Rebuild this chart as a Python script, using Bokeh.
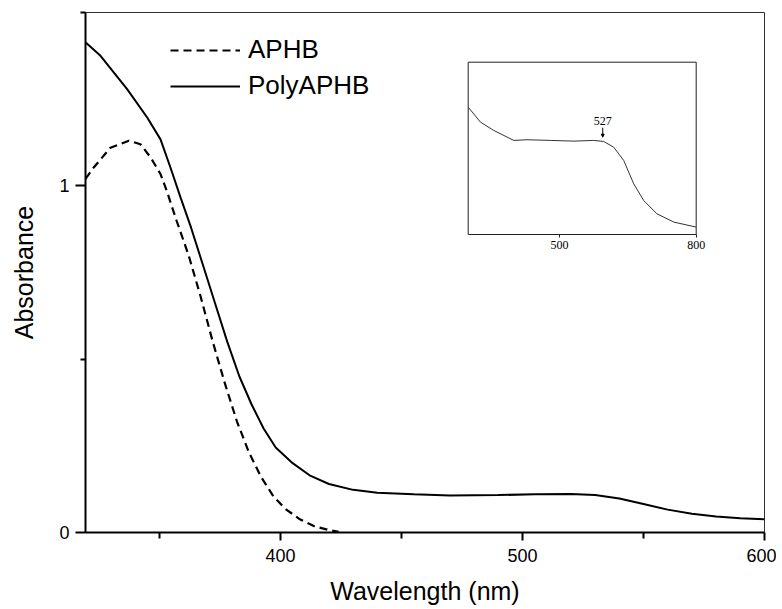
from bokeh.plotting import figure
from bokeh.models import (Range1d, LinearAxis, FixedTicker, Legend, LegendItem,
                          Arrow, NormalHead)
from bokeh.core.properties import value
from bokeh.embed import file_html
from bokeh.resources import INLINE

# ---------------- data ----------------
aphb_wl = [319.4, 322.8, 329.7, 337.3, 342.1, 346.3, 350.4, 353.2, 357, 362, 367,
           372, 377, 382, 387, 392, 397, 402, 408, 414, 420, 424]
aphb_abs = [1.02, 1.053, 1.110, 1.130, 1.120, 1.082, 1.034, 0.981, 0.90, 0.80, 0.68,
            0.55, 0.43, 0.32, 0.23, 0.16, 0.105, 0.068, 0.038, 0.018, 0.007, 0.002]

poly_wl = [319.6, 325.6, 336.6, 344.9, 350.4, 354.5, 358.7, 363, 368, 373, 378, 383,
           388, 393, 398, 405, 412, 420, 430, 440, 455, 470, 490, 505, 520, 530,
           540, 550, 560, 570, 580, 590, 600]
poly_abs = [1.413, 1.375, 1.279, 1.197, 1.134, 1.053, 0.966, 0.88, 0.77, 0.66, 0.55,
            0.45, 0.37, 0.30, 0.245, 0.20, 0.165, 0.14, 0.123, 0.115, 0.110, 0.107,
            0.108, 0.110, 0.111, 0.108, 0.098, 0.082, 0.066, 0.054, 0.046, 0.041, 0.038]

inset_wl = [300, 327, 356, 400, 429, 480, 532, 575, 597, 619, 641, 663, 685, 714, 751, 800]
inset_abs = [0.739, 0.652, 0.604, 0.546, 0.550, 0.546, 0.542, 0.546, 0.540, 0.507,
             0.43, 0.294, 0.197, 0.12, 0.072, 0.043]

x_ticks = [400, 500, 600]
x_minor = [350, 450, 550]
y_ticks = [0, 1]
y_minor = [0.5, 1.5]
x_lim = (319.4, 600)
y_lim = (0, 1.5)

inset_x_lim = (300, 800)
inset_y_lim = (0, 1)
inset_ticks = [500, 800]
peak_label = ["527"]
peak_x = [595]
peak_y = [0.635]

series_names = ["APHB", "PolyAPHB"]

# ---------------- layout constants (pixels) ----------------
FRAME_W, FRAME_H = 679, 520
INSET_LEFT, INSET_TOP, INSET_W, INSET_H = 382.7, 49.7, 228.0, 172.3

SANS = "Liberation Sans"
SERIF = "Liberation Serif"

p = figure(width=776, height=605, frame_width=FRAME_W, frame_height=FRAME_H,
           x_range=Range1d(*x_lim), y_range=Range1d(*y_lim),
           output_backend="svg", toolbar_location=None,
           min_border_left=85, min_border_top=12, min_border_right=12, min_border_bottom=73)
p.background_fill_color = "white"
p.border_fill_color = "white"
p.grid.visible = False
p.outline_line_color = "#333333"
p.outline_line_width = 1

xa = p.xaxis[0]
ya = p.yaxis[0]
for ax in (xa, ya):
    ax.axis_line_width = 2
    ax.axis_line_color = "black"
    ax.major_tick_line_color = "black"
    ax.minor_tick_line_color = "black"
    ax.major_tick_line_width = 2
    ax.minor_tick_line_width = 2
    ax.major_tick_in = 0
    ax.minor_tick_in = 0
    ax.major_label_text_font = SANS
    ax.major_label_text_font_size = "18px"
    ax.major_label_text_color = "black"
    ax.axis_label_text_font = SANS
    ax.axis_label_text_font_size = "25px"
    ax.axis_label_text_font_style = "normal"
    ax.axis_label_text_color = "black"

xa.ticker = FixedTicker(ticks=x_ticks, minor_ticks=x_minor)
ya.ticker = FixedTicker(ticks=y_ticks, minor_ticks=y_minor)
xa.major_tick_out = 8
xa.minor_tick_out = 6
ya.major_tick_out = 10
ya.minor_tick_out = 5
xa.major_label_standoff = 8
ya.major_label_standoff = 6
xa.axis_label = "Wavelength (nm)"
ya.axis_label = "Absorbance"
xa.axis_label_standoff = 12
ya.axis_label_standoff = 18

# main curves
r_aphb = p.line(aphb_wl, aphb_abs, line_color="black", line_width=2.2, line_dash="8 5")
r_poly = p.line(poly_wl, poly_abs, line_color="black", line_width=2)

legend = Legend(items=[LegendItem(label=series_names[0], renderers=[r_aphb]),
                       LegendItem(label=series_names[1], renderers=[r_poly])],
                location=(85, 431), orientation="vertical",
                glyph_width=70, glyph_height=28, label_height=28, spacing=5,
                label_standoff=8, padding=0, margin=0,
                label_text_font=SANS, label_text_font_size="26px",
                label_text_color="black",
                background_fill_alpha=0, border_line_color=None)
p.add_layout(legend, "center")

# ---------------- inset drawn on its own ranges ----------------
ixs = (inset_x_lim[1] - inset_x_lim[0]) / INSET_W
iys = (inset_y_lim[1] - inset_y_lim[0]) / INSET_H
ix0 = inset_x_lim[0] - INSET_LEFT * ixs
iy_bottom_off = FRAME_H - INSET_TOP - INSET_H
iy0 = inset_y_lim[0] - iy_bottom_off * iys
p.extra_x_ranges = {"ix": Range1d(ix0, ix0 + FRAME_W * ixs)}
p.extra_y_ranges = {"iy": Range1d(iy0, iy0 + FRAME_H * iys)}

p.quad(left=[inset_x_lim[0]], right=[inset_x_lim[1]],
       bottom=[inset_y_lim[0]], top=[inset_y_lim[1]],
       x_range_name="ix", y_range_name="iy",
       fill_color="white", line_color="#222222", line_width=1)
p.line(inset_wl, inset_abs, x_range_name="ix", y_range_name="iy",
       line_color="#333333", line_width=1)

iax = LinearAxis(x_range_name="ix", y_range_name="iy", fixed_location=inset_y_lim[0],
                 bounds=inset_x_lim, ticker=FixedTicker(ticks=inset_ticks, minor_ticks=[]))
iax.axis_line_color = None
iax.major_tick_out = 3
iax.major_tick_in = 0
iax.major_tick_line_color = "#222222"
iax.major_label_standoff = 3
iax.major_label_text_font = SERIF
iax.major_label_text_font_size = "12px"
iax.major_label_text_color = "black"
p.add_layout(iax, "below")

p.text(x=peak_x, y=peak_y, text=peak_label, x_range_name="ix", y_range_name="iy",
       text_align="center", text_baseline="bottom",
       text_font=value(SERIF), text_font_size="12px", text_color="black")
p.add_layout(Arrow(x_start=peak_x[0], y_start=0.62, x_end=peak_x[0], y_end=0.565,
                   x_range_name="ix", y_range_name="iy",
                   line_width=1, line_color="black",
                   end=NormalHead(size=3, line_color="black", fill_color="black")))

open("out.html", "w").write(file_html(p, INLINE))
